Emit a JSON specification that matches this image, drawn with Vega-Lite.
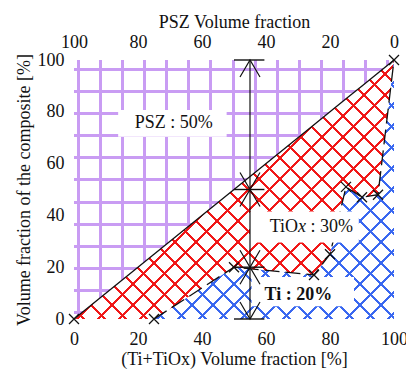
{
  "$schema": "https://vega.github.io/schema/vega-lite/v6.json",
  "autosize": {"type": "none"},
  "padding": {"left": 74, "top": 60, "right": 12, "bottom": 50},
  "width": 320,
  "height": 259,
  "background": "white",
  "config": {
    "view": {"stroke": null},
    "font": "Liberation Serif",
    "axis": {
      "labelFont": "Liberation Serif",
      "titleFont": "Liberation Serif",
      "labelFontSize": 18,
      "titleFontSize": 18,
      "titleFontWeight": "normal",
      "labelColor": "#111",
      "titleColor": "#111",
      "ticks": false,
      "tickSize": 0,
      "domain": false,
      "grid": false,
      "labelFlush": false,
      "labelOverlap": false,
      "labelBound": false
    }
  },
  "datasets": {
    "region": [
      {"x": 0, "diag": 0, "curve": 0},
      {"x": 25, "diag": 25, "curve": 0},
      {"x": 50, "diag": 50, "curve": 20},
      {"x": 75, "diag": 75, "curve": 17},
      {"x": 80, "diag": 80, "curve": 25},
      {"x": 85, "diag": 85, "curve": 51},
      {"x": 90, "diag": 90, "curve": 47},
      {"x": 95, "diag": 95, "curve": 48},
      {"x": 100, "diag": 100, "curve": 100}
    ],
    "boxes": [
      {"name": "PSZ", "x0": 13.8, "x1": 47.7, "y0": 70.4, "y1": 80.7},
      {"name": "TiOx", "x0": 55, "x1": 89, "y0": 29.5, "y1": 41.5},
      {"name": "Ti", "x0": 55.5, "x1": 87.5, "y0": 4.9, "y1": 16.2}
    ],
    "spans": [
      {"from": 100, "to": 50},
      {"from": 50, "to": 20},
      {"from": 20, "to": 0}
    ],
    "levels": [{"level": 100}, {"level": 50}, {"level": 20}, {"level": 0}]
  },
  "resolve": {"axis": {"x": "independent", "y": "independent"}},
  "layer": [
    {
      "data": {"name": "region"},
      "mark": {"type": "area", "fill": {"gradient": "linear", "x1": 0, "y1": 0, "x2": 1, "y2": 0, "stops": [
        {"offset": 0, "color": "rgba(0,0,0,0)"},
        {"offset": 0.0088, "color": "rgba(0,0,0,0)"}, {"offset": 0.0088, "color": "#c99cf3"}, {"offset": 0.0181, "color": "#c99cf3"}, {"offset": 0.0181, "color": "rgba(0,0,0,0)"},
        {"offset": 0.0778, "color": "rgba(0,0,0,0)"}, {"offset": 0.0778, "color": "#c99cf3"}, {"offset": 0.0872, "color": "#c99cf3"}, {"offset": 0.0872, "color": "rgba(0,0,0,0)"},
        {"offset": 0.1469, "color": "rgba(0,0,0,0)"}, {"offset": 0.1469, "color": "#c99cf3"}, {"offset": 0.1563, "color": "#c99cf3"}, {"offset": 0.1563, "color": "rgba(0,0,0,0)"},
        {"offset": 0.2159, "color": "rgba(0,0,0,0)"}, {"offset": 0.2159, "color": "#c99cf3"}, {"offset": 0.2253, "color": "#c99cf3"}, {"offset": 0.2253, "color": "rgba(0,0,0,0)"},
        {"offset": 0.2850, "color": "rgba(0,0,0,0)"}, {"offset": 0.2850, "color": "#c99cf3"}, {"offset": 0.2944, "color": "#c99cf3"}, {"offset": 0.2944, "color": "rgba(0,0,0,0)"},
        {"offset": 0.3541, "color": "rgba(0,0,0,0)"}, {"offset": 0.3541, "color": "#c99cf3"}, {"offset": 0.3634, "color": "#c99cf3"}, {"offset": 0.3634, "color": "rgba(0,0,0,0)"},
        {"offset": 0.4231, "color": "rgba(0,0,0,0)"}, {"offset": 0.4231, "color": "#c99cf3"}, {"offset": 0.4325, "color": "#c99cf3"}, {"offset": 0.4325, "color": "rgba(0,0,0,0)"},
        {"offset": 0.4922, "color": "rgba(0,0,0,0)"}, {"offset": 0.4922, "color": "#c99cf3"}, {"offset": 0.5016, "color": "#c99cf3"}, {"offset": 0.5016, "color": "rgba(0,0,0,0)"},
        {"offset": 0.5613, "color": "rgba(0,0,0,0)"}, {"offset": 0.5613, "color": "#c99cf3"}, {"offset": 0.5706, "color": "#c99cf3"}, {"offset": 0.5706, "color": "rgba(0,0,0,0)"},
        {"offset": 0.6303, "color": "rgba(0,0,0,0)"}, {"offset": 0.6303, "color": "#c99cf3"}, {"offset": 0.6397, "color": "#c99cf3"}, {"offset": 0.6397, "color": "rgba(0,0,0,0)"},
        {"offset": 0.6994, "color": "rgba(0,0,0,0)"}, {"offset": 0.6994, "color": "#c99cf3"}, {"offset": 0.7088, "color": "#c99cf3"}, {"offset": 0.7088, "color": "rgba(0,0,0,0)"},
        {"offset": 0.7684, "color": "rgba(0,0,0,0)"}, {"offset": 0.7684, "color": "#c99cf3"}, {"offset": 0.7778, "color": "#c99cf3"}, {"offset": 0.7778, "color": "rgba(0,0,0,0)"},
        {"offset": 0.8375, "color": "rgba(0,0,0,0)"}, {"offset": 0.8375, "color": "#c99cf3"}, {"offset": 0.8469, "color": "#c99cf3"}, {"offset": 0.8469, "color": "rgba(0,0,0,0)"},
        {"offset": 0.9066, "color": "rgba(0,0,0,0)"}, {"offset": 0.9066, "color": "#c99cf3"}, {"offset": 0.9159, "color": "#c99cf3"}, {"offset": 0.9159, "color": "rgba(0,0,0,0)"},
        {"offset": 0.9756, "color": "rgba(0,0,0,0)"}, {"offset": 0.9756, "color": "#c99cf3"}, {"offset": 0.9850, "color": "#c99cf3"}, {"offset": 0.9850, "color": "rgba(0,0,0,0)"},
        {"offset": 1, "color": "rgba(0,0,0,0)"}
      ]}},
      "encoding": {
        "x": {"field": "x", "type": "quantitative", "scale": {"domain": [0, 100], "nice": false},
              "axis": {"orient": "bottom", "values": [0, 20, 40, 60, 80, 100], "title": "(Ti+TiOx) Volume fraction [%]", "labelPadding": 11, "titlePadding": 2}},
        "y": {"field": "diag", "type": "quantitative", "scale": {"domain": [0, 100], "nice": false},
              "axis": {"orient": "left", "values": [0, 20, 40, 60, 80, 100], "title": "Volume fraction of the composite [%]", "labelPadding": 10, "titlePadding": 4}},
        "y2": {"datum": 100}
      }
    },
    {
      "data": {"name": "region"},
      "mark": {"type": "area", "fill": {"gradient": "linear", "x1": 0, "y1": 0, "x2": 0, "y2": 1, "stops": [
        {"offset": 0, "color": "rgba(0,0,0,0)"},
        {"offset": 0.0309, "color": "rgba(0,0,0,0)"}, {"offset": 0.0309, "color": "#c99cf3"}, {"offset": 0.0425, "color": "#c99cf3"}, {"offset": 0.0425, "color": "rgba(0,0,0,0)"},
        {"offset": 0.1162, "color": "rgba(0,0,0,0)"}, {"offset": 0.1162, "color": "#c99cf3"}, {"offset": 0.1278, "color": "#c99cf3"}, {"offset": 0.1278, "color": "rgba(0,0,0,0)"},
        {"offset": 0.2015, "color": "rgba(0,0,0,0)"}, {"offset": 0.2015, "color": "#c99cf3"}, {"offset": 0.2131, "color": "#c99cf3"}, {"offset": 0.2131, "color": "rgba(0,0,0,0)"},
        {"offset": 0.2869, "color": "rgba(0,0,0,0)"}, {"offset": 0.2869, "color": "#c99cf3"}, {"offset": 0.2985, "color": "#c99cf3"}, {"offset": 0.2985, "color": "rgba(0,0,0,0)"},
        {"offset": 0.3722, "color": "rgba(0,0,0,0)"}, {"offset": 0.3722, "color": "#c99cf3"}, {"offset": 0.3838, "color": "#c99cf3"}, {"offset": 0.3838, "color": "rgba(0,0,0,0)"},
        {"offset": 0.4575, "color": "rgba(0,0,0,0)"}, {"offset": 0.4575, "color": "#c99cf3"}, {"offset": 0.4691, "color": "#c99cf3"}, {"offset": 0.4691, "color": "rgba(0,0,0,0)"},
        {"offset": 0.5429, "color": "rgba(0,0,0,0)"}, {"offset": 0.5429, "color": "#c99cf3"}, {"offset": 0.5544, "color": "#c99cf3"}, {"offset": 0.5544, "color": "rgba(0,0,0,0)"},
        {"offset": 0.6282, "color": "rgba(0,0,0,0)"}, {"offset": 0.6282, "color": "#c99cf3"}, {"offset": 0.6398, "color": "#c99cf3"}, {"offset": 0.6398, "color": "rgba(0,0,0,0)"},
        {"offset": 0.7135, "color": "rgba(0,0,0,0)"}, {"offset": 0.7135, "color": "#c99cf3"}, {"offset": 0.7251, "color": "#c99cf3"}, {"offset": 0.7251, "color": "rgba(0,0,0,0)"},
        {"offset": 0.7988, "color": "rgba(0,0,0,0)"}, {"offset": 0.7988, "color": "#c99cf3"}, {"offset": 0.8104, "color": "#c99cf3"}, {"offset": 0.8104, "color": "rgba(0,0,0,0)"},
        {"offset": 0.8842, "color": "rgba(0,0,0,0)"}, {"offset": 0.8842, "color": "#c99cf3"}, {"offset": 0.8958, "color": "#c99cf3"}, {"offset": 0.8958, "color": "rgba(0,0,0,0)"},
        {"offset": 0.9695, "color": "rgba(0,0,0,0)"}, {"offset": 0.9695, "color": "#c99cf3"}, {"offset": 0.9811, "color": "#c99cf3"}, {"offset": 0.9811, "color": "rgba(0,0,0,0)"},
        {"offset": 1, "color": "rgba(0,0,0,0)"}
      ]}},
      "encoding": {
        "x": {"field": "x", "type": "quantitative", "axis": null},
        "y": {"field": "diag", "type": "quantitative", "axis": null},
        "y2": {"datum": 100}
      }
    },
    {
      "data": {"name": "region"},
      "mark": {"type": "area", "fill": {"gradient": "linear", "x1": 0, "y1": 0, "x2": 1.0934, "y2": 0.8846, "stops": [
        {"offset": 0, "color": "rgba(0,0,0,0)"},
        {"offset": 0.0151, "color": "rgba(0,0,0,0)"}, {"offset": 0.0151, "color": "#f01818"}, {"offset": 0.0194, "color": "#f01818"}, {"offset": 0.0194, "color": "rgba(0,0,0,0)"},
        {"offset": 0.0514, "color": "rgba(0,0,0,0)"}, {"offset": 0.0514, "color": "#f01818"}, {"offset": 0.0557, "color": "#f01818"}, {"offset": 0.0557, "color": "rgba(0,0,0,0)"},
        {"offset": 0.0877, "color": "rgba(0,0,0,0)"}, {"offset": 0.0877, "color": "#f01818"}, {"offset": 0.0920, "color": "#f01818"}, {"offset": 0.0920, "color": "rgba(0,0,0,0)"},
        {"offset": 0.1239, "color": "rgba(0,0,0,0)"}, {"offset": 0.1239, "color": "#f01818"}, {"offset": 0.1282, "color": "#f01818"}, {"offset": 0.1282, "color": "rgba(0,0,0,0)"},
        {"offset": 0.1602, "color": "rgba(0,0,0,0)"}, {"offset": 0.1602, "color": "#f01818"}, {"offset": 0.1645, "color": "#f01818"}, {"offset": 0.1645, "color": "rgba(0,0,0,0)"},
        {"offset": 0.1965, "color": "rgba(0,0,0,0)"}, {"offset": 0.1965, "color": "#f01818"}, {"offset": 0.2008, "color": "#f01818"}, {"offset": 0.2008, "color": "rgba(0,0,0,0)"},
        {"offset": 0.2327, "color": "rgba(0,0,0,0)"}, {"offset": 0.2327, "color": "#f01818"}, {"offset": 0.2370, "color": "#f01818"}, {"offset": 0.2370, "color": "rgba(0,0,0,0)"},
        {"offset": 0.2690, "color": "rgba(0,0,0,0)"}, {"offset": 0.2690, "color": "#f01818"}, {"offset": 0.2733, "color": "#f01818"}, {"offset": 0.2733, "color": "rgba(0,0,0,0)"},
        {"offset": 0.3053, "color": "rgba(0,0,0,0)"}, {"offset": 0.3053, "color": "#f01818"}, {"offset": 0.3096, "color": "#f01818"}, {"offset": 0.3096, "color": "rgba(0,0,0,0)"},
        {"offset": 0.3415, "color": "rgba(0,0,0,0)"}, {"offset": 0.3415, "color": "#f01818"}, {"offset": 0.3458, "color": "#f01818"}, {"offset": 0.3458, "color": "rgba(0,0,0,0)"},
        {"offset": 0.3778, "color": "rgba(0,0,0,0)"}, {"offset": 0.3778, "color": "#f01818"}, {"offset": 0.3821, "color": "#f01818"}, {"offset": 0.3821, "color": "rgba(0,0,0,0)"},
        {"offset": 0.4141, "color": "rgba(0,0,0,0)"}, {"offset": 0.4141, "color": "#f01818"}, {"offset": 0.4184, "color": "#f01818"}, {"offset": 0.4184, "color": "rgba(0,0,0,0)"},
        {"offset": 0.4503, "color": "rgba(0,0,0,0)"}, {"offset": 0.4503, "color": "#f01818"}, {"offset": 0.4546, "color": "#f01818"}, {"offset": 0.4546, "color": "rgba(0,0,0,0)"},
        {"offset": 0.4866, "color": "rgba(0,0,0,0)"}, {"offset": 0.4866, "color": "#f01818"}, {"offset": 0.4909, "color": "#f01818"}, {"offset": 0.4909, "color": "rgba(0,0,0,0)"},
        {"offset": 0.5229, "color": "rgba(0,0,0,0)"}, {"offset": 0.5229, "color": "#f01818"}, {"offset": 0.5272, "color": "#f01818"}, {"offset": 0.5272, "color": "rgba(0,0,0,0)"},
        {"offset": 0.5592, "color": "rgba(0,0,0,0)"}, {"offset": 0.5592, "color": "#f01818"}, {"offset": 0.5635, "color": "#f01818"}, {"offset": 0.5635, "color": "rgba(0,0,0,0)"},
        {"offset": 0.5954, "color": "rgba(0,0,0,0)"}, {"offset": 0.5954, "color": "#f01818"}, {"offset": 0.5997, "color": "#f01818"}, {"offset": 0.5997, "color": "rgba(0,0,0,0)"},
        {"offset": 0.6317, "color": "rgba(0,0,0,0)"}, {"offset": 0.6317, "color": "#f01818"}, {"offset": 0.6360, "color": "#f01818"}, {"offset": 0.6360, "color": "rgba(0,0,0,0)"},
        {"offset": 0.6680, "color": "rgba(0,0,0,0)"}, {"offset": 0.6680, "color": "#f01818"}, {"offset": 0.6723, "color": "#f01818"}, {"offset": 0.6723, "color": "rgba(0,0,0,0)"},
        {"offset": 0.7042, "color": "rgba(0,0,0,0)"}, {"offset": 0.7042, "color": "#f01818"}, {"offset": 0.7085, "color": "#f01818"}, {"offset": 0.7085, "color": "rgba(0,0,0,0)"},
        {"offset": 0.7405, "color": "rgba(0,0,0,0)"}, {"offset": 0.7405, "color": "#f01818"}, {"offset": 0.7448, "color": "#f01818"}, {"offset": 0.7448, "color": "rgba(0,0,0,0)"},
        {"offset": 0.7768, "color": "rgba(0,0,0,0)"}, {"offset": 0.7768, "color": "#f01818"}, {"offset": 0.7811, "color": "#f01818"}, {"offset": 0.7811, "color": "rgba(0,0,0,0)"},
        {"offset": 0.8130, "color": "rgba(0,0,0,0)"}, {"offset": 0.8130, "color": "#f01818"}, {"offset": 0.8173, "color": "#f01818"}, {"offset": 0.8173, "color": "rgba(0,0,0,0)"},
        {"offset": 0.8493, "color": "rgba(0,0,0,0)"}, {"offset": 0.8493, "color": "#f01818"}, {"offset": 0.8536, "color": "#f01818"}, {"offset": 0.8536, "color": "rgba(0,0,0,0)"},
        {"offset": 0.8856, "color": "rgba(0,0,0,0)"}, {"offset": 0.8856, "color": "#f01818"}, {"offset": 0.8899, "color": "#f01818"}, {"offset": 0.8899, "color": "rgba(0,0,0,0)"},
        {"offset": 0.9218, "color": "rgba(0,0,0,0)"}, {"offset": 0.9218, "color": "#f01818"}, {"offset": 0.9261, "color": "#f01818"}, {"offset": 0.9261, "color": "rgba(0,0,0,0)"},
        {"offset": 0.9581, "color": "rgba(0,0,0,0)"}, {"offset": 0.9581, "color": "#f01818"}, {"offset": 0.9624, "color": "#f01818"}, {"offset": 0.9624, "color": "rgba(0,0,0,0)"},
        {"offset": 0.9944, "color": "rgba(0,0,0,0)"}, {"offset": 0.9944, "color": "#f01818"}, {"offset": 0.9987, "color": "#f01818"}, {"offset": 0.9987, "color": "rgba(0,0,0,0)"},
        {"offset": 1, "color": "rgba(0,0,0,0)"}
      ]}},
      "encoding": {
        "x": {"field": "x", "type": "quantitative",
              "axis": {"orient": "top", "values": [0, 20, 40, 60, 80, 100], "labelExpr": "100 - datum.value", "title": "PSZ Volume fraction", "labelPadding": 9, "titlePadding": 2}},
        "y": {"field": "diag", "type": "quantitative", "axis": null},
        "y2": {"field": "curve"}
      }
    },
    {
      "data": {"name": "region"},
      "mark": {"type": "area", "fill": {"gradient": "linear", "x1": 0, "y1": 1, "x2": 1.0934, "y2": 0.1154, "stops": [
        {"offset": 0, "color": "rgba(0,0,0,0)"},
        {"offset": 0.0151, "color": "rgba(0,0,0,0)"}, {"offset": 0.0151, "color": "#f01818"}, {"offset": 0.0194, "color": "#f01818"}, {"offset": 0.0194, "color": "rgba(0,0,0,0)"},
        {"offset": 0.0514, "color": "rgba(0,0,0,0)"}, {"offset": 0.0514, "color": "#f01818"}, {"offset": 0.0557, "color": "#f01818"}, {"offset": 0.0557, "color": "rgba(0,0,0,0)"},
        {"offset": 0.0877, "color": "rgba(0,0,0,0)"}, {"offset": 0.0877, "color": "#f01818"}, {"offset": 0.0920, "color": "#f01818"}, {"offset": 0.0920, "color": "rgba(0,0,0,0)"},
        {"offset": 0.1239, "color": "rgba(0,0,0,0)"}, {"offset": 0.1239, "color": "#f01818"}, {"offset": 0.1282, "color": "#f01818"}, {"offset": 0.1282, "color": "rgba(0,0,0,0)"},
        {"offset": 0.1602, "color": "rgba(0,0,0,0)"}, {"offset": 0.1602, "color": "#f01818"}, {"offset": 0.1645, "color": "#f01818"}, {"offset": 0.1645, "color": "rgba(0,0,0,0)"},
        {"offset": 0.1965, "color": "rgba(0,0,0,0)"}, {"offset": 0.1965, "color": "#f01818"}, {"offset": 0.2008, "color": "#f01818"}, {"offset": 0.2008, "color": "rgba(0,0,0,0)"},
        {"offset": 0.2327, "color": "rgba(0,0,0,0)"}, {"offset": 0.2327, "color": "#f01818"}, {"offset": 0.2370, "color": "#f01818"}, {"offset": 0.2370, "color": "rgba(0,0,0,0)"},
        {"offset": 0.2690, "color": "rgba(0,0,0,0)"}, {"offset": 0.2690, "color": "#f01818"}, {"offset": 0.2733, "color": "#f01818"}, {"offset": 0.2733, "color": "rgba(0,0,0,0)"},
        {"offset": 0.3053, "color": "rgba(0,0,0,0)"}, {"offset": 0.3053, "color": "#f01818"}, {"offset": 0.3096, "color": "#f01818"}, {"offset": 0.3096, "color": "rgba(0,0,0,0)"},
        {"offset": 0.3415, "color": "rgba(0,0,0,0)"}, {"offset": 0.3415, "color": "#f01818"}, {"offset": 0.3458, "color": "#f01818"}, {"offset": 0.3458, "color": "rgba(0,0,0,0)"},
        {"offset": 0.3778, "color": "rgba(0,0,0,0)"}, {"offset": 0.3778, "color": "#f01818"}, {"offset": 0.3821, "color": "#f01818"}, {"offset": 0.3821, "color": "rgba(0,0,0,0)"},
        {"offset": 0.4141, "color": "rgba(0,0,0,0)"}, {"offset": 0.4141, "color": "#f01818"}, {"offset": 0.4184, "color": "#f01818"}, {"offset": 0.4184, "color": "rgba(0,0,0,0)"},
        {"offset": 0.4503, "color": "rgba(0,0,0,0)"}, {"offset": 0.4503, "color": "#f01818"}, {"offset": 0.4546, "color": "#f01818"}, {"offset": 0.4546, "color": "rgba(0,0,0,0)"},
        {"offset": 0.4866, "color": "rgba(0,0,0,0)"}, {"offset": 0.4866, "color": "#f01818"}, {"offset": 0.4909, "color": "#f01818"}, {"offset": 0.4909, "color": "rgba(0,0,0,0)"},
        {"offset": 0.5229, "color": "rgba(0,0,0,0)"}, {"offset": 0.5229, "color": "#f01818"}, {"offset": 0.5272, "color": "#f01818"}, {"offset": 0.5272, "color": "rgba(0,0,0,0)"},
        {"offset": 0.5592, "color": "rgba(0,0,0,0)"}, {"offset": 0.5592, "color": "#f01818"}, {"offset": 0.5635, "color": "#f01818"}, {"offset": 0.5635, "color": "rgba(0,0,0,0)"},
        {"offset": 0.5954, "color": "rgba(0,0,0,0)"}, {"offset": 0.5954, "color": "#f01818"}, {"offset": 0.5997, "color": "#f01818"}, {"offset": 0.5997, "color": "rgba(0,0,0,0)"},
        {"offset": 0.6317, "color": "rgba(0,0,0,0)"}, {"offset": 0.6317, "color": "#f01818"}, {"offset": 0.6360, "color": "#f01818"}, {"offset": 0.6360, "color": "rgba(0,0,0,0)"},
        {"offset": 0.6680, "color": "rgba(0,0,0,0)"}, {"offset": 0.6680, "color": "#f01818"}, {"offset": 0.6723, "color": "#f01818"}, {"offset": 0.6723, "color": "rgba(0,0,0,0)"},
        {"offset": 0.7042, "color": "rgba(0,0,0,0)"}, {"offset": 0.7042, "color": "#f01818"}, {"offset": 0.7085, "color": "#f01818"}, {"offset": 0.7085, "color": "rgba(0,0,0,0)"},
        {"offset": 0.7405, "color": "rgba(0,0,0,0)"}, {"offset": 0.7405, "color": "#f01818"}, {"offset": 0.7448, "color": "#f01818"}, {"offset": 0.7448, "color": "rgba(0,0,0,0)"},
        {"offset": 0.7768, "color": "rgba(0,0,0,0)"}, {"offset": 0.7768, "color": "#f01818"}, {"offset": 0.7811, "color": "#f01818"}, {"offset": 0.7811, "color": "rgba(0,0,0,0)"},
        {"offset": 0.8130, "color": "rgba(0,0,0,0)"}, {"offset": 0.8130, "color": "#f01818"}, {"offset": 0.8173, "color": "#f01818"}, {"offset": 0.8173, "color": "rgba(0,0,0,0)"},
        {"offset": 0.8493, "color": "rgba(0,0,0,0)"}, {"offset": 0.8493, "color": "#f01818"}, {"offset": 0.8536, "color": "#f01818"}, {"offset": 0.8536, "color": "rgba(0,0,0,0)"},
        {"offset": 0.8856, "color": "rgba(0,0,0,0)"}, {"offset": 0.8856, "color": "#f01818"}, {"offset": 0.8899, "color": "#f01818"}, {"offset": 0.8899, "color": "rgba(0,0,0,0)"},
        {"offset": 0.9218, "color": "rgba(0,0,0,0)"}, {"offset": 0.9218, "color": "#f01818"}, {"offset": 0.9261, "color": "#f01818"}, {"offset": 0.9261, "color": "rgba(0,0,0,0)"},
        {"offset": 0.9581, "color": "rgba(0,0,0,0)"}, {"offset": 0.9581, "color": "#f01818"}, {"offset": 0.9624, "color": "#f01818"}, {"offset": 0.9624, "color": "rgba(0,0,0,0)"},
        {"offset": 0.9944, "color": "rgba(0,0,0,0)"}, {"offset": 0.9944, "color": "#f01818"}, {"offset": 0.9987, "color": "#f01818"}, {"offset": 0.9987, "color": "rgba(0,0,0,0)"},
        {"offset": 1, "color": "rgba(0,0,0,0)"}
      ]}},
      "encoding": {
        "x": {"field": "x", "type": "quantitative", "axis": null},
        "y": {"field": "diag", "type": "quantitative", "axis": null},
        "y2": {"field": "curve"}
      }
    },
    {
      "data": {"name": "region"},
      "transform": [{"filter": "datum.x >= 25"}],
      "mark": {"type": "area", "fill": {"gradient": "linear", "x1": 0, "y1": 0, "x2": 0.9603, "y2": 1.0362, "stops": [
        {"offset": 0, "color": "rgba(0,0,0,0)"},
        {"offset": 0.0175, "color": "rgba(0,0,0,0)"}, {"offset": 0.0175, "color": "#3a68f0"}, {"offset": 0.0226, "color": "#3a68f0"}, {"offset": 0.0226, "color": "rgba(0,0,0,0)"},
        {"offset": 0.0596, "color": "rgba(0,0,0,0)"}, {"offset": 0.0596, "color": "#3a68f0"}, {"offset": 0.0646, "color": "#3a68f0"}, {"offset": 0.0646, "color": "rgba(0,0,0,0)"},
        {"offset": 0.1017, "color": "rgba(0,0,0,0)"}, {"offset": 0.1017, "color": "#3a68f0"}, {"offset": 0.1067, "color": "#3a68f0"}, {"offset": 0.1067, "color": "rgba(0,0,0,0)"},
        {"offset": 0.1438, "color": "rgba(0,0,0,0)"}, {"offset": 0.1438, "color": "#3a68f0"}, {"offset": 0.1488, "color": "#3a68f0"}, {"offset": 0.1488, "color": "rgba(0,0,0,0)"},
        {"offset": 0.1859, "color": "rgba(0,0,0,0)"}, {"offset": 0.1859, "color": "#3a68f0"}, {"offset": 0.1909, "color": "#3a68f0"}, {"offset": 0.1909, "color": "rgba(0,0,0,0)"},
        {"offset": 0.2280, "color": "rgba(0,0,0,0)"}, {"offset": 0.2280, "color": "#3a68f0"}, {"offset": 0.2330, "color": "#3a68f0"}, {"offset": 0.2330, "color": "rgba(0,0,0,0)"},
        {"offset": 0.2700, "color": "rgba(0,0,0,0)"}, {"offset": 0.2700, "color": "#3a68f0"}, {"offset": 0.2751, "color": "#3a68f0"}, {"offset": 0.2751, "color": "rgba(0,0,0,0)"},
        {"offset": 0.3121, "color": "rgba(0,0,0,0)"}, {"offset": 0.3121, "color": "#3a68f0"}, {"offset": 0.3171, "color": "#3a68f0"}, {"offset": 0.3171, "color": "rgba(0,0,0,0)"},
        {"offset": 0.3542, "color": "rgba(0,0,0,0)"}, {"offset": 0.3542, "color": "#3a68f0"}, {"offset": 0.3592, "color": "#3a68f0"}, {"offset": 0.3592, "color": "rgba(0,0,0,0)"},
        {"offset": 0.3963, "color": "rgba(0,0,0,0)"}, {"offset": 0.3963, "color": "#3a68f0"}, {"offset": 0.4013, "color": "#3a68f0"}, {"offset": 0.4013, "color": "rgba(0,0,0,0)"},
        {"offset": 0.4384, "color": "rgba(0,0,0,0)"}, {"offset": 0.4384, "color": "#3a68f0"}, {"offset": 0.4434, "color": "#3a68f0"}, {"offset": 0.4434, "color": "rgba(0,0,0,0)"},
        {"offset": 0.4805, "color": "rgba(0,0,0,0)"}, {"offset": 0.4805, "color": "#3a68f0"}, {"offset": 0.4855, "color": "#3a68f0"}, {"offset": 0.4855, "color": "rgba(0,0,0,0)"},
        {"offset": 0.5226, "color": "rgba(0,0,0,0)"}, {"offset": 0.5226, "color": "#3a68f0"}, {"offset": 0.5276, "color": "#3a68f0"}, {"offset": 0.5276, "color": "rgba(0,0,0,0)"},
        {"offset": 0.5646, "color": "rgba(0,0,0,0)"}, {"offset": 0.5646, "color": "#3a68f0"}, {"offset": 0.5696, "color": "#3a68f0"}, {"offset": 0.5696, "color": "rgba(0,0,0,0)"},
        {"offset": 0.6067, "color": "rgba(0,0,0,0)"}, {"offset": 0.6067, "color": "#3a68f0"}, {"offset": 0.6117, "color": "#3a68f0"}, {"offset": 0.6117, "color": "rgba(0,0,0,0)"},
        {"offset": 0.6488, "color": "rgba(0,0,0,0)"}, {"offset": 0.6488, "color": "#3a68f0"}, {"offset": 0.6538, "color": "#3a68f0"}, {"offset": 0.6538, "color": "rgba(0,0,0,0)"},
        {"offset": 0.6909, "color": "rgba(0,0,0,0)"}, {"offset": 0.6909, "color": "#3a68f0"}, {"offset": 0.6959, "color": "#3a68f0"}, {"offset": 0.6959, "color": "rgba(0,0,0,0)"},
        {"offset": 0.7330, "color": "rgba(0,0,0,0)"}, {"offset": 0.7330, "color": "#3a68f0"}, {"offset": 0.7380, "color": "#3a68f0"}, {"offset": 0.7380, "color": "rgba(0,0,0,0)"},
        {"offset": 0.7751, "color": "rgba(0,0,0,0)"}, {"offset": 0.7751, "color": "#3a68f0"}, {"offset": 0.7801, "color": "#3a68f0"}, {"offset": 0.7801, "color": "rgba(0,0,0,0)"},
        {"offset": 0.8171, "color": "rgba(0,0,0,0)"}, {"offset": 0.8171, "color": "#3a68f0"}, {"offset": 0.8221, "color": "#3a68f0"}, {"offset": 0.8221, "color": "rgba(0,0,0,0)"},
        {"offset": 0.8592, "color": "rgba(0,0,0,0)"}, {"offset": 0.8592, "color": "#3a68f0"}, {"offset": 0.8642, "color": "#3a68f0"}, {"offset": 0.8642, "color": "rgba(0,0,0,0)"},
        {"offset": 0.9013, "color": "rgba(0,0,0,0)"}, {"offset": 0.9013, "color": "#3a68f0"}, {"offset": 0.9063, "color": "#3a68f0"}, {"offset": 0.9063, "color": "rgba(0,0,0,0)"},
        {"offset": 0.9434, "color": "rgba(0,0,0,0)"}, {"offset": 0.9434, "color": "#3a68f0"}, {"offset": 0.9484, "color": "#3a68f0"}, {"offset": 0.9484, "color": "rgba(0,0,0,0)"},
        {"offset": 0.9855, "color": "rgba(0,0,0,0)"}, {"offset": 0.9855, "color": "#3a68f0"}, {"offset": 0.9905, "color": "#3a68f0"}, {"offset": 0.9905, "color": "rgba(0,0,0,0)"},
        {"offset": 1, "color": "rgba(0,0,0,0)"}
      ]}},
      "encoding": {
        "x": {"field": "x", "type": "quantitative", "axis": null},
        "y": {"field": "curve", "type": "quantitative", "axis": null},
        "y2": {"datum": 0}
      }
    },
    {
      "data": {"name": "region"},
      "transform": [{"filter": "datum.x >= 25"}],
      "mark": {"type": "area", "fill": {"gradient": "linear", "x1": 0, "y1": 1, "x2": 0.9603, "y2": -0.0362, "stops": [
        {"offset": 0, "color": "rgba(0,0,0,0)"},
        {"offset": 0.0175, "color": "rgba(0,0,0,0)"}, {"offset": 0.0175, "color": "#3a68f0"}, {"offset": 0.0226, "color": "#3a68f0"}, {"offset": 0.0226, "color": "rgba(0,0,0,0)"},
        {"offset": 0.0596, "color": "rgba(0,0,0,0)"}, {"offset": 0.0596, "color": "#3a68f0"}, {"offset": 0.0646, "color": "#3a68f0"}, {"offset": 0.0646, "color": "rgba(0,0,0,0)"},
        {"offset": 0.1017, "color": "rgba(0,0,0,0)"}, {"offset": 0.1017, "color": "#3a68f0"}, {"offset": 0.1067, "color": "#3a68f0"}, {"offset": 0.1067, "color": "rgba(0,0,0,0)"},
        {"offset": 0.1438, "color": "rgba(0,0,0,0)"}, {"offset": 0.1438, "color": "#3a68f0"}, {"offset": 0.1488, "color": "#3a68f0"}, {"offset": 0.1488, "color": "rgba(0,0,0,0)"},
        {"offset": 0.1859, "color": "rgba(0,0,0,0)"}, {"offset": 0.1859, "color": "#3a68f0"}, {"offset": 0.1909, "color": "#3a68f0"}, {"offset": 0.1909, "color": "rgba(0,0,0,0)"},
        {"offset": 0.2280, "color": "rgba(0,0,0,0)"}, {"offset": 0.2280, "color": "#3a68f0"}, {"offset": 0.2330, "color": "#3a68f0"}, {"offset": 0.2330, "color": "rgba(0,0,0,0)"},
        {"offset": 0.2700, "color": "rgba(0,0,0,0)"}, {"offset": 0.2700, "color": "#3a68f0"}, {"offset": 0.2751, "color": "#3a68f0"}, {"offset": 0.2751, "color": "rgba(0,0,0,0)"},
        {"offset": 0.3121, "color": "rgba(0,0,0,0)"}, {"offset": 0.3121, "color": "#3a68f0"}, {"offset": 0.3171, "color": "#3a68f0"}, {"offset": 0.3171, "color": "rgba(0,0,0,0)"},
        {"offset": 0.3542, "color": "rgba(0,0,0,0)"}, {"offset": 0.3542, "color": "#3a68f0"}, {"offset": 0.3592, "color": "#3a68f0"}, {"offset": 0.3592, "color": "rgba(0,0,0,0)"},
        {"offset": 0.3963, "color": "rgba(0,0,0,0)"}, {"offset": 0.3963, "color": "#3a68f0"}, {"offset": 0.4013, "color": "#3a68f0"}, {"offset": 0.4013, "color": "rgba(0,0,0,0)"},
        {"offset": 0.4384, "color": "rgba(0,0,0,0)"}, {"offset": 0.4384, "color": "#3a68f0"}, {"offset": 0.4434, "color": "#3a68f0"}, {"offset": 0.4434, "color": "rgba(0,0,0,0)"},
        {"offset": 0.4805, "color": "rgba(0,0,0,0)"}, {"offset": 0.4805, "color": "#3a68f0"}, {"offset": 0.4855, "color": "#3a68f0"}, {"offset": 0.4855, "color": "rgba(0,0,0,0)"},
        {"offset": 0.5226, "color": "rgba(0,0,0,0)"}, {"offset": 0.5226, "color": "#3a68f0"}, {"offset": 0.5276, "color": "#3a68f0"}, {"offset": 0.5276, "color": "rgba(0,0,0,0)"},
        {"offset": 0.5646, "color": "rgba(0,0,0,0)"}, {"offset": 0.5646, "color": "#3a68f0"}, {"offset": 0.5696, "color": "#3a68f0"}, {"offset": 0.5696, "color": "rgba(0,0,0,0)"},
        {"offset": 0.6067, "color": "rgba(0,0,0,0)"}, {"offset": 0.6067, "color": "#3a68f0"}, {"offset": 0.6117, "color": "#3a68f0"}, {"offset": 0.6117, "color": "rgba(0,0,0,0)"},
        {"offset": 0.6488, "color": "rgba(0,0,0,0)"}, {"offset": 0.6488, "color": "#3a68f0"}, {"offset": 0.6538, "color": "#3a68f0"}, {"offset": 0.6538, "color": "rgba(0,0,0,0)"},
        {"offset": 0.6909, "color": "rgba(0,0,0,0)"}, {"offset": 0.6909, "color": "#3a68f0"}, {"offset": 0.6959, "color": "#3a68f0"}, {"offset": 0.6959, "color": "rgba(0,0,0,0)"},
        {"offset": 0.7330, "color": "rgba(0,0,0,0)"}, {"offset": 0.7330, "color": "#3a68f0"}, {"offset": 0.7380, "color": "#3a68f0"}, {"offset": 0.7380, "color": "rgba(0,0,0,0)"},
        {"offset": 0.7751, "color": "rgba(0,0,0,0)"}, {"offset": 0.7751, "color": "#3a68f0"}, {"offset": 0.7801, "color": "#3a68f0"}, {"offset": 0.7801, "color": "rgba(0,0,0,0)"},
        {"offset": 0.8171, "color": "rgba(0,0,0,0)"}, {"offset": 0.8171, "color": "#3a68f0"}, {"offset": 0.8221, "color": "#3a68f0"}, {"offset": 0.8221, "color": "rgba(0,0,0,0)"},
        {"offset": 0.8592, "color": "rgba(0,0,0,0)"}, {"offset": 0.8592, "color": "#3a68f0"}, {"offset": 0.8642, "color": "#3a68f0"}, {"offset": 0.8642, "color": "rgba(0,0,0,0)"},
        {"offset": 0.9013, "color": "rgba(0,0,0,0)"}, {"offset": 0.9013, "color": "#3a68f0"}, {"offset": 0.9063, "color": "#3a68f0"}, {"offset": 0.9063, "color": "rgba(0,0,0,0)"},
        {"offset": 0.9434, "color": "rgba(0,0,0,0)"}, {"offset": 0.9434, "color": "#3a68f0"}, {"offset": 0.9484, "color": "#3a68f0"}, {"offset": 0.9484, "color": "rgba(0,0,0,0)"},
        {"offset": 0.9855, "color": "rgba(0,0,0,0)"}, {"offset": 0.9855, "color": "#3a68f0"}, {"offset": 0.9905, "color": "#3a68f0"}, {"offset": 0.9905, "color": "rgba(0,0,0,0)"},
        {"offset": 1, "color": "rgba(0,0,0,0)"}
      ]}},
      "encoding": {
        "x": {"field": "x", "type": "quantitative", "axis": null},
        "y": {"field": "curve", "type": "quantitative", "axis": null},
        "y2": {"datum": 0}
      }
    },
    {
      "data": {"name": "region"},
      "transform": [{"filter": "datum.x >= 25"}],
      "mark": {"type": "line", "color": "#111", "strokeWidth": 1.3, "strokeDash": [15, 6]},
      "encoding": {
        "x": {"field": "x", "type": "quantitative", "axis": null},
        "y": {"field": "curve", "type": "quantitative", "axis": null}
      }
    },
    {
      "data": {"name": "boxes"},
      "mark": {"type": "rect", "fill": "white", "stroke": null},
      "encoding": {
        "x": {"field": "x0", "type": "quantitative", "axis": null},
        "x2": {"field": "x1"},
        "y": {"field": "y0", "type": "quantitative", "axis": null},
        "y2": {"field": "y1"}
      }
    },
    {
      "data": {"name": "region"},
      "mark": {"type": "line", "color": "#111", "strokeWidth": 1.3},
      "encoding": {
        "x": {"field": "x", "type": "quantitative", "axis": null},
        "y": {"field": "diag", "type": "quantitative", "axis": null}
      }
    },
    {
      "mark": {"type": "rule", "color": "#ff2020", "strokeWidth": 1.4},
      "encoding": {
        "x": {"datum": 50, "axis": null},
        "y": {"datum": 0, "axis": null},
        "y2": {"datum": 100}
      }
    },
    {
      "data": {"name": "spans"},
      "mark": {"type": "rule", "color": "#111", "strokeWidth": 1.2},
      "encoding": {
        "x": {"datum": 55, "axis": null},
        "y": {"field": "from", "type": "quantitative", "axis": null},
        "y2": {"field": "to"}
      }
    },
    {
      "data": {"name": "levels"},
      "mark": {"type": "rule", "color": "#111", "strokeWidth": 1.4},
      "encoding": {
        "x": {"datum": 50, "axis": null},
        "x2": {"datum": 59.5},
        "y": {"field": "level", "type": "quantitative", "axis": null}
      }
    },
    {
      "data": {"name": "spans"},
      "mark": {"type": "point", "shape": "M-1,1.7L0,0L1,1.7", "size": 400, "filled": false, "stroke": "#111", "strokeWidth": 1.2, "opacity": 1},
      "encoding": {
        "x": {"datum": 55, "axis": null},
        "y": {"field": "from", "type": "quantitative", "axis": null}
      }
    },
    {
      "data": {"name": "spans"},
      "mark": {"type": "point", "shape": "M-1,-1.7L0,0L1,-1.7", "size": 400, "filled": false, "stroke": "#111", "strokeWidth": 1.2, "opacity": 1},
      "encoding": {
        "x": {"datum": 55, "axis": null},
        "y": {"field": "to", "type": "quantitative", "axis": null}
      }
    },
    {
      "data": {"name": "region"},
      "mark": {"type": "point", "shape": "M-1,-1L1,1M-1,1L1,-1", "size": 100, "filled": false, "stroke": "#111", "strokeWidth": 1.3, "opacity": 1},
      "encoding": {
        "x": {"field": "x", "type": "quantitative", "axis": null},
        "y": {"field": "curve", "type": "quantitative", "axis": null}
      }
    },
    {
      "data": {"values": [{"x": 31.2, "y": 75.6, "t": "PSZ : 50%"}]},
      "mark": {"type": "text", "font": "Liberation Serif", "fontSize": 18, "color": "#111", "align": "center", "baseline": "middle"},
      "encoding": {
        "x": {"field": "x", "type": "quantitative", "axis": null},
        "y": {"field": "y", "type": "quantitative", "axis": null},
        "text": {"field": "t"}
      }
    },
    {
      "data": {"values": [{"x": 70, "y": 35.7, "t": "TiO"}]},
      "mark": {"type": "text", "font": "Liberation Serif", "fontSize": 18, "color": "#111", "align": "right", "baseline": "middle"},
      "encoding": {
        "x": {"field": "x", "type": "quantitative", "axis": null},
        "y": {"field": "y", "type": "quantitative", "axis": null},
        "text": {"field": "t"}
      }
    },
    {
      "data": {"values": [{"x": 70, "y": 35.7, "t": "x"}]},
      "mark": {"type": "text", "font": "Liberation Serif", "fontSize": 18, "fontStyle": "italic", "color": "#111", "align": "left", "baseline": "middle"},
      "encoding": {
        "x": {"field": "x", "type": "quantitative", "axis": null},
        "y": {"field": "y", "type": "quantitative", "axis": null},
        "text": {"field": "t"}
      }
    },
    {
      "data": {"values": [{"x": 70, "y": 35.7, "t": ": 30%"}]},
      "mark": {"type": "text", "font": "Liberation Serif", "fontSize": 18, "color": "#111", "align": "left", "baseline": "middle", "dx": 12.5},
      "encoding": {
        "x": {"field": "x", "type": "quantitative", "axis": null},
        "y": {"field": "y", "type": "quantitative", "axis": null},
        "text": {"field": "t"}
      }
    },
    {
      "data": {"values": [{"x": 70.1, "y": 9.4, "t": "Ti : 20%"}]},
      "mark": {"type": "text", "font": "Liberation Serif", "fontSize": 18, "fontWeight": "bold", "color": "#111", "align": "center", "baseline": "middle"},
      "encoding": {
        "x": {"field": "x", "type": "quantitative", "axis": null},
        "y": {"field": "y", "type": "quantitative", "axis": null},
        "text": {"field": "t"}
      }
    },
    {
      "mark": {"type": "rect", "filled": false, "stroke": "#111", "strokeWidth": 1.6},
      "encoding": {
        "x": {"datum": 0, "axis": null},
        "x2": {"datum": 100},
        "y": {"datum": 0, "axis": null},
        "y2": {"datum": 100}
      }
    }
  ]
}
